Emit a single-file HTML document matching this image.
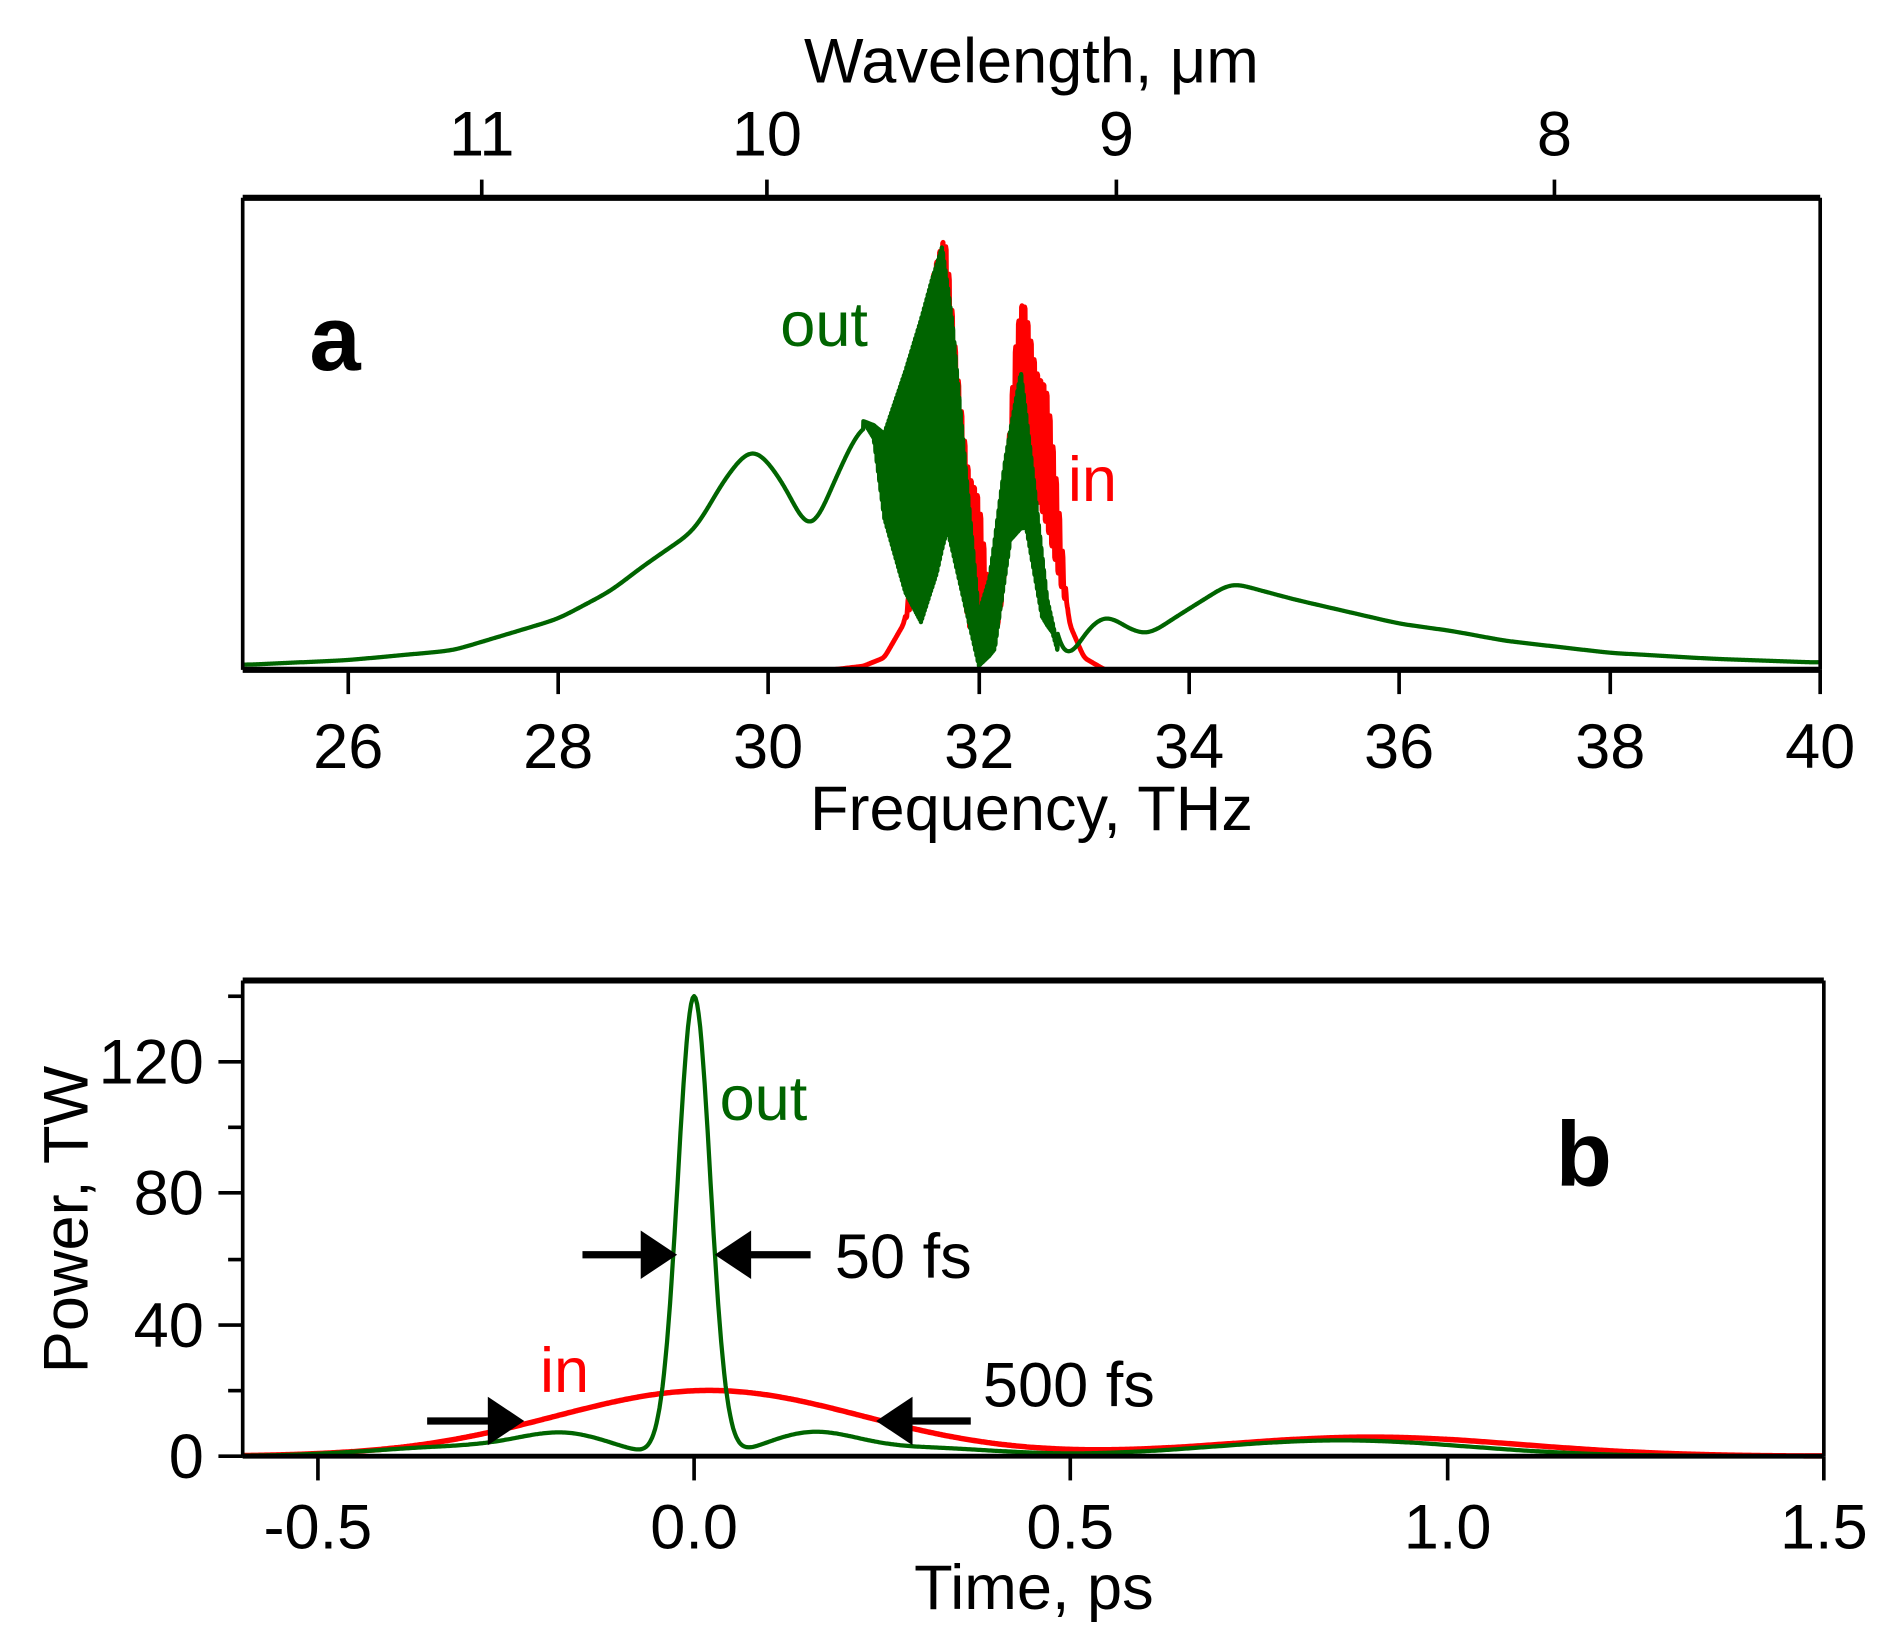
<!DOCTYPE html>
<html><head><meta charset="utf-8"><style>
html,body{margin:0;padding:0;background:#fff;}
svg{display:block;}
text{font-family:"Liberation Sans",Arial,sans-serif;}
</style></head><body>
<svg id="s" width="1893" height="1640" viewBox="0 0 1560 1351.5" xmlns="http://www.w3.org/2000/svg">
<rect width="1560" height="1352" fill="#fff"/>
<g id="curves"></g>
<g stroke="#000" fill="none">
<line x1="200" y1="163" x2="1500" y2="163" stroke-width="5"/>
<line x1="200" y1="163" x2="200" y2="552" stroke-width="3"/>
<line x1="1500" y1="163" x2="1500" y2="552" stroke-width="3"/>
<line x1="200" y1="552" x2="1500" y2="552" stroke-width="5"/>
<g stroke-width="3">
<line x1="287" y1="552" x2="287" y2="572"/><line x1="460" y1="552" x2="460" y2="572"/>
<line x1="633" y1="552" x2="633" y2="572"/><line x1="807" y1="552" x2="807" y2="572"/>
<line x1="980" y1="552" x2="980" y2="572"/><line x1="1153" y1="552" x2="1153" y2="572"/>
<line x1="1327" y1="552" x2="1327" y2="572"/><line x1="1500" y1="552" x2="1500" y2="572"/>
<line x1="397" y1="163" x2="397" y2="148"/><line x1="632" y1="163" x2="632" y2="148"/>
<line x1="920" y1="163" x2="920" y2="148"/><line x1="1281" y1="163" x2="1281" y2="148"/>
</g>
</g>
<g font-size="52" text-anchor="middle" fill="#000">
<text x="287" y="633">26</text><text x="460" y="633">28</text><text x="633" y="633">30</text>
<text x="807" y="633">32</text><text x="980" y="633">34</text><text x="1153" y="633">36</text>
<text x="1327" y="633">38</text><text x="1500" y="633">40</text>
<text x="850" y="684">Frequency, THz</text>
<text x="397" y="128">11</text><text x="632" y="128">10</text><text x="920" y="128">9</text><text x="1281" y="128">8</text>
<text x="850" y="68">Wavelength, μm</text>
</g>
<text x="255" y="305" font-size="76" font-weight="bold">a</text>
<text x="643" y="285" font-size="52" fill="#006400">out</text>
<text x="880" y="413" font-size="52" fill="#ff0000">in</text>

<g stroke="#000" fill="none">
<line x1="200" y1="808" x2="1503" y2="808" stroke-width="5"/>
<line x1="200" y1="808" x2="200" y2="1200" stroke-width="3"/>
<line x1="1503" y1="808" x2="1503" y2="1200" stroke-width="3"/>
<line x1="200" y1="1200" x2="1503" y2="1200" stroke-width="4"/>
<g stroke-width="3">
<line x1="262" y1="1200" x2="262" y2="1220"/><line x1="572" y1="1200" x2="572" y2="1220"/>
<line x1="882" y1="1200" x2="882" y2="1220"/><line x1="1193" y1="1200" x2="1193" y2="1220"/>
<line x1="1503" y1="1200" x2="1503" y2="1220"/>
<line x1="180" y1="1200" x2="200" y2="1200"/><line x1="188" y1="1146" x2="200" y2="1146"/>
<line x1="180" y1="1092" x2="200" y2="1092"/><line x1="188" y1="1038" x2="200" y2="1038"/>
<line x1="180" y1="983" x2="200" y2="983"/><line x1="188" y1="929" x2="200" y2="929"/>
<line x1="180" y1="875" x2="200" y2="875"/><line x1="188" y1="821" x2="200" y2="821"/>
</g>
</g>
<g font-size="52" fill="#000">
<g text-anchor="middle">
<text x="262" y="1276">-0.5</text><text x="572" y="1276">0.0</text><text x="882" y="1276">0.5</text>
<text x="1193" y="1276">1.0</text><text x="1503" y="1276">1.5</text>
<text x="852" y="1326">Time, ps</text>
<text transform="translate(72,1005) rotate(-90)">Power, TW</text>
</g>
<g text-anchor="end">
<text x="168" y="1218">0</text><text x="168" y="1110">40</text><text x="168" y="1001">80</text><text x="168" y="893">120</text>
</g>
<text x="688" y="1053">50 fs</text>
<text x="810" y="1159">500 fs</text>
</g>
<text x="1282" y="977" font-size="76" font-weight="bold">b</text>
<text x="593" y="923" font-size="52" fill="#006400">out</text>
<text x="445" y="1147" font-size="52" fill="#ff0000">in</text>
<g fill="#000" stroke="#000">
<line x1="480" y1="1034" x2="535" y2="1034" stroke-width="6"/>
<polygon points="558,1034 528,1014 528,1054" stroke="none"/>
<line x1="612" y1="1034" x2="668" y2="1034" stroke-width="6"/>
<polygon points="589,1034 619,1014 619,1054" stroke="none"/>
<line x1="352" y1="1171" x2="408" y2="1171" stroke-width="6"/>
<polygon points="432,1171 402,1151 402,1191" stroke="none"/>
<line x1="745" y1="1171" x2="800" y2="1171" stroke-width="6"/>
<polygon points="722,1171 752,1151 752,1191" stroke="none"/>
</g>
</svg>
<script>
(function(){
var g=document.getElementById('curves');
function interp(pts,x){if(x<=pts[0][0])return pts[0][1];for(var i=1;i<pts.length;i++){if(x<=pts[i][0]){var a=pts[i-1],b=pts[i];return a[1]+(b[1]-a[1])*(x-a[0])/(b[0]-a[0]);}}return pts[pts.length-1][1];}
function fx(f){return 200+(f-25)*86.667;}
function add(d,col,w){var p=document.createElementNS('http://www.w3.org/2000/svg','path');p.setAttribute('d',d);p.setAttribute('fill','none');p.setAttribute('stroke',col);p.setAttribute('stroke-width',w);p.setAttribute('stroke-linejoin','round');g.appendChild(p);}
function sample(pts,f0,f1,st,win,rawFn){var n=Math.round((f1-f0)/st)+1,a=[],raw=[];for(var i=0;i<n;i++){raw.push(interp(pts,f0+i*st));}a=raw.slice();
 var h=Math.round(win/st);
 if(h>=1){for(var pass=0;pass<2;pass++){var b=[];for(var i=0;i<n;i++){var s=0,c=0;for(var j=i-h;j<=i+h;j++){if(j>=0&&j<n){s+=a[j];c++;}}b.push(s/c);}a=b;}}
 if(rawFn){for(var i=0;i<n;i++){if(rawFn(f0+i*st))a[i]=raw[i];}}
 return a;}
function spec(up,lo,f0,f1,per,col,w,win,oscFn){var st=per/6;var U=sample(up,f0,f1,st,win,oscFn),L=sample(lo,f0,f1,st,win,oscFn);var d='';
 for(var i=0;i<U.length;i++){var f=f0+i*st;var u=U[i],l=Math.min(u,L[i]);if(oscFn&&!oscFn(f))l=u;
 var v=l+(u-l)*(0.5+0.5*Math.sin(2*Math.PI*f/per));d+=(d?'L':'M')+fx(f).toFixed(1)+','+(552-v).toFixed(1);}add(d,col,w);}
var rU=[[29.6,0],[30.6,0],[30.9,3],[31.1,10],[31.3,40],[31.4,110],[31.55,330],[31.68,370],[31.8,250],[31.9,170],[32.0,150],[32.1,60],[32.2,80],[32.35,280],[32.42,320],[32.55,250],[32.65,240],[32.75,150],[32.85,40],[33.0,10],[33.2,0],[34.75,0]];
var rL=[[29.6,0],[31.3,40],[31.4,60],[31.55,200],[31.7,220],[31.8,120],[31.9,20],[32.0,40],[32.1,10],[32.2,40],[32.35,160],[32.5,150],[32.65,110],[32.8,60],[32.9,40],[34.75,0]];
spec(rU,rL,29.6,34.75,0.03,'#ff0000',4,0.02);
var gU=[[25,4],[26,8],[27,16],[28,42],[28.5,65],[28.8,85],[29.3,115],[29.6,160],[29.85,185],[30.1,160],[30.4,110],[30.7,170],[30.9,205],[31.1,200],[31.3,260],[31.55,340],[31.65,368],[31.75,300],[31.9,150],[32.0,50],[32.1,80],[32.25,180],[32.4,255],[32.5,180],[32.65,60],[32.8,0],[33.0,30],[33.2,47],[33.4,35],[33.6,28],[33.9,45],[34.4,72],[35,58],[35.5,48],[36,38],[36.5,32],[37,24],[38,14],[39,9],[40,6]];
var gL=[[25,4],[30.9,205],[31.0,190],[31.1,120],[31.3,50],[31.45,20],[31.6,60],[31.7,100],[31.85,50],[32.0,0],[32.15,10],[32.3,100],[32.45,110],[32.6,40],[32.7,30],[32.8,0],[40,0]];
spec(gU,gL,25,40,0.012,'#006400',3.5,0.1,function(f){return f>30.9&&f<32.75;});
function tx(t){return 572+t*620;}
function ty(p){return 1200-p*2.708;}
function G(t,a,m,s){return a*Math.exp(-(t-m)*(t-m)/(2*s*s));}
var dr='',dg='';
for(var t=-0.6;t<=1.5001;t+=0.002){
 var r=G(t,20,0.02,0.205)+G(t,5.8,0.9,0.2);
 var side=G(t,5.5,-0.17,0.06)+G(t,6.5,0.155,0.06)+G(t,3,-0.3,0.12)+G(t,2.5,0.3,0.1)+G(t,4.8,0.86,0.17);
 side*=(1-Math.exp(-t*t/(2*0.04*0.04)));
 var gg=G(t,140,0,0.0215)+side;
 dr+=(dr?'L':'M')+tx(t).toFixed(1)+','+ty(r).toFixed(1);
 dg+=(dg?'L':'M')+tx(t).toFixed(1)+','+ty(gg).toFixed(1);
}
add(dr,'#ff0000',4.5);add(dg,'#006400',3.5);
})();
</script>
</body></html>
